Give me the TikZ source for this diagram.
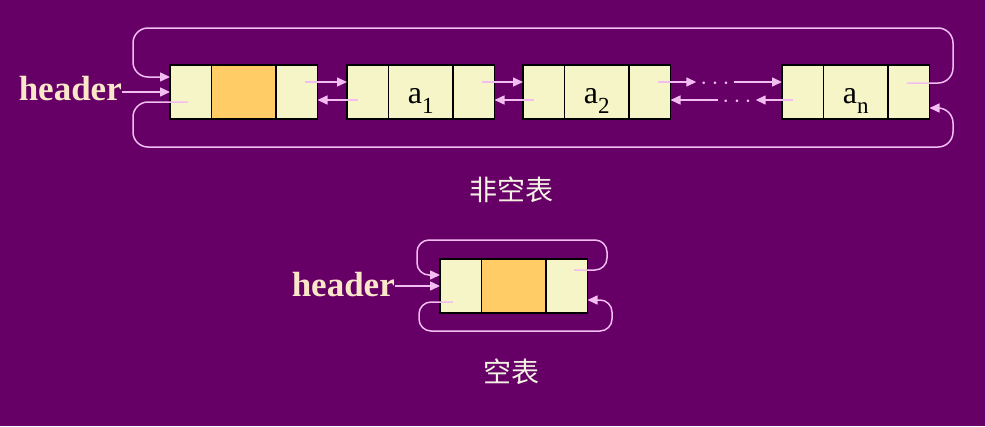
\documentclass[tikz,border=0pt]{standalone}
\usepackage{fontspec}
\setmainfont{Liberation Serif}
\newfontfamily\cjk{Noto Sans CJK SC}
\usetikzlibrary{positioning,arrows.meta}

\definecolor{bgpurple}{HTML}{660066}
\definecolor{cellfill}{HTML}{F5F5C8}
\definecolor{headfill}{HTML}{FFCC66}
\definecolor{linkpink}{HTML}{F2BEF2}
\definecolor{hdrcream}{HTML}{FAE6C8}
\definecolor{captioncol}{HTML}{F4F0E4}

\newcommand{\elemsub}[1]{\raisebox{-10pt}{\fontsize{23}{23}\selectfont #1}}

\tikzset{
  cell/.style={draw=black, line width=1.5pt, fill=cellfill, minimum height=54pt, inner sep=0pt, outer sep=0pt},
  ptr/.style={cell, minimum width=41.5pt},
  elem/.style={cell, minimum width=64.5pt, text height=32pt, text depth=10pt, font=\fontsize{32}{34}\selectfont},
  link/.style={draw=linkpink, line width=1.5pt, -{Triangle[length=10pt,width=9pt]}},
  hdr/.style={text=hdrcream, font=\fontsize{35}{40}\selectfont\bfseries, inner sep=0pt},
  dots/.style={text=linkpink, font=\fontsize{30}{30}\selectfont, inner sep=4pt, text height=15pt, text depth=0pt},
  caption/.style={text=captioncol, font=\cjk\fontsize{28}{30}\selectfont},
}

\begin{document}
\begin{tikzpicture}[x=1pt, y=-1pt]
  % Background
  \fill[bgpurple] (0,0) rectangle (985,426);
  \useasboundingbox (0,0) rectangle (985,426);

  % Non-empty list: head node
  \node[ptr, anchor=north west] (h1l) at (170,65) {};
  \node[elem, fill=headfill, right=0pt of h1l] (h1d) {};
  \node[ptr, right=0pt of h1d] (h1r) {};
  % a1
  \node[ptr, anchor=north west] (a1l) at (347,65) {};
  \node[elem, right=0pt of a1l] (a1d) {a\elemsub{1}};
  \node[ptr, right=0pt of a1d] (a1r) {};
  % a2
  \node[ptr, anchor=north west] (a2l) at (523,65) {};
  \node[elem, right=0pt of a2l] (a2d) {a\elemsub{2}};
  \node[ptr, right=0pt of a2d] (a2r) {};
  % an
  \node[ptr, anchor=north west] (anl) at (782,65) {};
  \node[elem, right=0pt of anl] (and) {a\elemsub{n}};
  \node[ptr, right=0pt of and] (anr) {};

  % Header pointer
  \node[hdr, anchor=base east] (hdr1) at (122,100) {header};
  \draw[link] (hdr1.east |- h1l.west) -- (h1l.west);

  % Forward / backward links
  \draw[link] ([xshift=8pt,yshift=10pt]h1r.center) -- ([yshift=10pt]a1l.west);
  \draw[link] ([xshift=-10pt,yshift=-8pt]a1l.center) -- ([yshift=-8pt]h1r.east);
  \draw[link] ([xshift=8pt,yshift=10pt]a1r.center) -- ([yshift=10pt]a2l.west);
  \draw[link] ([xshift=-10pt,yshift=-8pt]a2l.center) -- ([yshift=-8pt]a1r.east);

  % Dots between a2 and an
  \node[dots] (fdots) at (715,82) {$\cdots$};
  \node[dots] (bdots) at (737,100) {$\cdots$};
  \draw[link] ([xshift=8pt,yshift=10pt]a2r.center) -- (fdots.west);
  \draw[link] (fdots.east) -- (fdots.east -| anl.west);
  \draw[link] ([xshift=-10pt,yshift=-8pt]anl.center) -- (bdots.east);
  \draw[link] (bdots.west) -- (bdots.west -| a2r.east);

  % Circular links
  \draw[link, rounded corners=15pt] ([xshift=-2pt,yshift=9pt]anr.center) -| (953,28) -| (133,77) -- ([yshift=15pt]h1l.west);
  \draw[link, rounded corners=15pt] ([xshift=-3pt,yshift=-10pt]h1l.center) -| (133,147) -| (953,108) -- ([yshift=-16pt]anr.east);

  \node[caption] (cap1) at (511,190) {非空表};

  % Empty list
  \node[ptr, anchor=north west] (e0l) at (440,259) {};
  \node[elem, fill=headfill, right=0pt of e0l] (e0d) {};
  \node[ptr, right=0pt of e0d] (e0r) {};

  \node[hdr, anchor=base east] (hdr2) at (395,296) {header};
  \draw[link] (hdr2.east |- e0l.west) -- (e0l.west);

  \draw[link, rounded corners=12pt] ([xshift=7pt,yshift=16pt]e0r.center) -| (607,240) -| (417,275) -- ([yshift=11pt]e0l.west);
  \draw[link, rounded corners=12pt] ([xshift=-8pt,yshift=-16pt]e0l.center) -| (419,331) -| (612,300) -- ([yshift=-14pt]e0r.east);

  \node[caption] (cap2) at (511,372) {空表};
\end{tikzpicture}
\end{document}
